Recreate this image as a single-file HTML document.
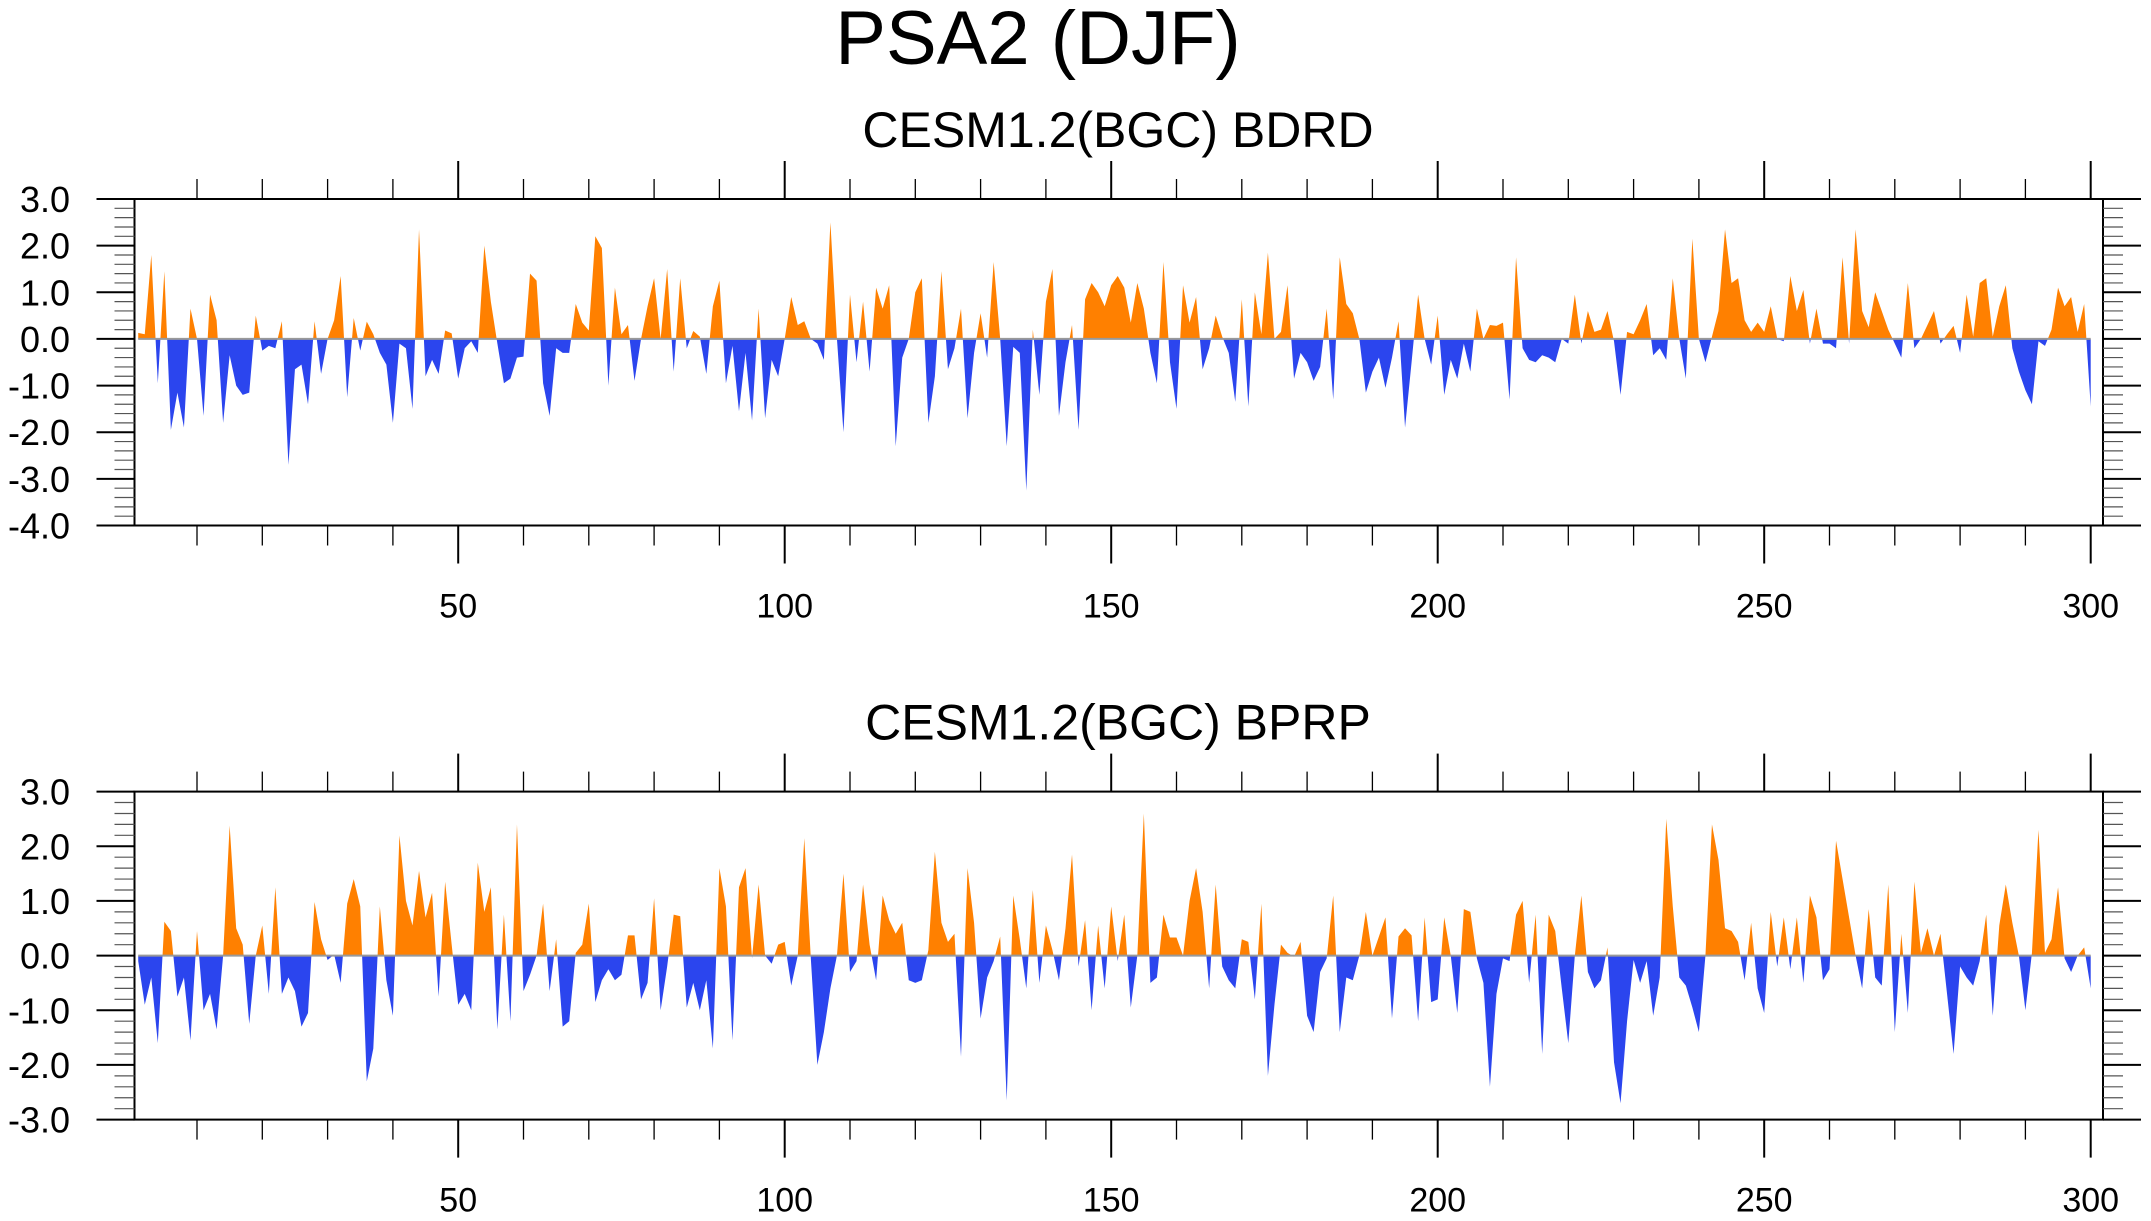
<!DOCTYPE html>
<html><head><meta charset="utf-8">
<style>
html,body{margin:0;padding:0;background:#fff;}
svg{display:block;font-family:"Liberation Sans",Arial,sans-serif;}
</style></head>
<body>
<svg id="chart" width="2151" height="1221" viewBox="0 0 2151 1221" xmlns="http://www.w3.org/2000/svg">
<text x="1038" y="64" font-size="76" text-anchor="middle">PSA2 (DJF)</text>
<g id="p1"></g>
<g id="p2"></g>
</svg>
<script>
const years = Array.from({length:300},(_,k)=>k+1);
const bdrdValues = [0.13,0.1,1.8,-0.95,1.45,-1.95,-1.15,-1.9,0.65,0,-1.65,0.95,0.4,-1.8,-0.35,-1.0,-1.2,-1.15,0.5,-0.25,
-0.15,-0.2,0.38,-2.7,-0.65,-0.55,-1.4,0.38,-0.75,0,0.4,1.35,-1.25,0.45,-0.25,0.37,0.1,-0.3,-0.55,-1.8,
-0.1,-0.2,-1.5,2.35,-0.8,-0.45,-0.75,0.18,0.12,-0.85,-0.2,-0.05,-0.3,2.0,0.8,-0.1,-0.95,-0.85,-0.4,-0.38,
1.4,1.25,-0.95,-1.65,-0.2,-0.3,-0.3,0.75,0.35,0.18,2.2,1.95,-1.0,1.1,0.1,0.3,-0.9,0,0.7,1.3,
0,1.5,-0.7,1.3,-0.2,0.17,0.05,-0.75,0.7,1.25,-0.95,-0.15,-1.55,-0.3,-1.75,0.65,-1.7,-0.45,-0.8,0,
0.9,0.3,0.38,0,-0.1,-0.45,2.5,0,-2.0,0.95,-0.5,0.8,-0.7,1.1,0.65,1.15,-2.3,-0.4,0,1.0,
1.3,-1.8,-0.8,1.45,-0.65,-0.2,0.65,-1.7,-0.3,0.55,-0.4,1.65,0,-2.3,-0.17,-0.3,-3.25,0.2,-1.2,0.8,
1.5,-1.65,-0.5,0.3,-1.95,0.85,1.2,1.0,0.7,1.15,1.35,1.1,0.35,1.2,0.65,-0.3,-0.95,1.65,-0.5,-1.5,
1.15,0.35,0.9,-0.65,-0.2,0.5,0.05,-0.3,-1.35,0.85,-1.45,1.0,0.1,1.85,0,0.15,1.15,-0.85,-0.3,-0.5,
-0.9,-0.6,0.65,-1.3,1.75,0.75,0.55,0,-1.15,-0.7,-0.4,-1.05,-0.4,0.38,-1.9,-0.5,0.95,0,-0.55,0.5,
-1.2,-0.45,-0.85,-0.1,-0.7,0.65,0,0.3,0.28,0.35,-1.3,1.75,-0.2,-0.45,-0.5,-0.35,-0.4,-0.5,0,-0.1,
0.95,-0.1,0.6,0.15,0.2,0.6,-0.05,-1.2,0.15,0.1,0.4,0.75,-0.35,-0.2,-0.45,1.3,0,-0.85,2.15,0,
-0.5,0.05,0.6,2.35,1.2,1.3,0.4,0.15,0.35,0.15,0.7,0,-0.05,1.35,0.6,1.05,-0.1,0.65,-0.1,-0.1,
-0.2,1.75,-0.1,2.35,0.6,0.25,1.0,0.6,0.2,-0.1,-0.4,1.2,-0.2,0,0.3,0.6,-0.1,0.1,0.28,-0.3,
0.95,0.05,1.2,1.3,0.05,0.7,1.15,-0.2,-0.7,-1.1,-1.4,-0.05,-0.15,0.2,1.1,0.7,0.9,0.15,0.75,-1.45];
const bprpValues = [-0.1,-0.9,-0.4,-1.6,0.62,0.45,-0.75,-0.4,-1.55,0.45,-1.0,-0.7,-1.35,0,2.38,0.5,0.2,-1.25,0,0.55,
-0.7,1.25,-0.7,-0.4,-0.65,-1.3,-1.05,0.98,0.3,-0.08,0.02,-0.5,0.95,1.4,0.9,-2.3,-1.7,0.9,-0.45,-1.1,
2.2,1.0,0.55,1.55,0.7,1.15,-0.75,1.35,0.2,-0.9,-0.7,-1.0,1.7,0.8,1.25,-1.35,0.75,-1.2,2.4,-0.65,
-0.35,0,0.95,-0.65,0.3,-1.3,-1.2,0.05,0.2,0.95,-0.85,-0.45,-0.25,-0.45,-0.35,0.37,0.37,-0.8,-0.5,1.05,
-1.0,-0.2,0.75,0.72,-0.95,-0.5,-1.0,-0.45,-1.7,1.6,0.9,-1.55,1.25,1.6,-0.05,1.3,0,-0.15,0.2,0.25,
-0.55,0,2.15,-0.05,-2.0,-1.4,-0.6,0,1.5,-0.3,-0.1,1.3,0.2,-0.45,1.1,0.65,0.4,0.6,-0.45,-0.5,
-0.45,0.1,1.9,0.6,0.25,0.4,-1.85,1.6,0.6,-1.15,-0.4,-0.1,0.35,-2.65,1.1,0.3,-0.6,1.2,-0.5,0.55,
0.1,-0.45,0.5,1.85,-0.2,0.65,-1.0,0.55,-0.6,0.9,-0.1,0.75,-0.95,0,2.6,-0.5,-0.4,0.75,0.33,0.33,
0,1.0,1.6,0.8,-0.6,1.3,-0.2,-0.45,-0.6,0.3,0.25,-0.8,0.95,-2.2,-0.9,0.2,0.05,-0.02,0.25,-1.1,
-1.4,-0.3,-0.05,1.1,-1.4,-0.4,-0.45,0,0.8,0,0.35,0.7,-1.15,0.35,0.5,0.37,-1.2,0.7,-0.85,-0.8,
0.7,0,-1.05,0.85,0.8,-0.05,-0.5,-2.4,-0.7,-0.05,-0.1,0.75,1.0,-0.5,0.75,-1.8,0.75,0.45,-0.6,-1.6,
0,1.1,-0.3,-0.6,-0.45,0.15,-1.95,-2.7,-1.2,-0.08,-0.5,-0.1,-1.1,-0.4,2.5,0.9,-0.4,-0.55,-0.95,-1.4,
0,2.4,1.75,0.5,0.45,0.25,-0.45,0.6,-0.6,-1.05,0.8,-0.2,0.7,-0.25,0.7,-0.5,1.1,0.7,-0.45,-0.25,
2.1,1.4,0.7,0,-0.6,0.85,-0.4,-0.55,1.3,-1.4,0.4,-1.05,1.35,0.05,0.5,0,0.4,-0.7,-1.8,-0.2,
-0.4,-0.55,-0.1,0.75,-1.1,0.55,1.3,0.6,0,-1.0,0.05,2.3,0.05,0.3,1.25,-0.05,-0.3,0,0.15,-0.6];
const xTicks = [50,100,150,200,250,300];
const yTicks1 = [3,2,1,0,-1,-2,-3,-4];
const yTicks2 = [3,2,1,0,-1,-2,-3];

const NS="http://www.w3.org/2000/svg";
function mk(tag,attrs,parent){const e=document.createElementNS(NS,tag);for(const k in attrs)e.setAttribute(k,attrs[k]);parent.appendChild(e);return e;}
const L=134.5,R=2103;
function xs(v){return 131.7+(v)*6.53;}

function drawPanel(g,id,title,vals,yTop,yBot,vmax,vmin,yticks){
  const ys=v=>yTop+(vmax-v)/(vmax-vmin)*(yBot-yTop);
  const t=mk('text',{x:1118,y:yTop-52,'font-size':50,'text-anchor':'middle'},g);
  t.textContent=title;
  
  
  const defs=mk('defs',{},g);
  const cu=mk('clipPath',{id:id+'up'},defs);mk('rect',{x:L,y:yTop,width:R-L,height:ys(0)-yTop},cu);
  const cd=mk('clipPath',{id:id+'dn'},defs);mk('rect',{x:L,y:ys(0),width:R-L,height:yBot-ys(0)},cd);
  let d='M'+xs(years[0])+','+ys(0);
  years.forEach((yr,k)=>{d+=' L'+xs(yr).toFixed(2)+','+ys(vals[k]).toFixed(2);});
  d+=' L'+xs(years[years.length-1])+','+ys(0)+' Z';
  const pu=mk('path',{d:d,fill:'#ff8000','clip-path':'url(#'+id+'up)'},g);
  
  
  const pd=mk('path',{d:d,fill:'#2b45ee','clip-path':'url(#'+id+'dn)'},g);
  
  
  const zl=mk('line',{x1:xs(1),x2:xs(300),y1:ys(0),y2:ys(0),stroke:'#999','stroke-width':2},g);
  
  
  const box=mk('rect',{x:L,y:yTop,width:R-L,height:yBot-yTop,fill:'none',stroke:'#000','stroke-width':2},g);
  
  
  for(let v=10;v<=300;v+=10){
    const maj=v%50===0, len=maj?38:20, x=xs(v);
    mk('line',{x1:x,x2:x,y1:yTop,y2:yTop-len,stroke:'#000','stroke-width':maj?2:1.3},g);
    mk('line',{x1:x,x2:x,y1:yBot,y2:yBot+len,stroke:'#000','stroke-width':maj?2:1.3},g);
  }
  xTicks.forEach(v=>{
    const tl=mk('text',{x:xs(v),y:yBot+92,'font-size':34,'text-anchor':'middle'},g);
    tl.textContent=v;
    
    
  });
  for(let v=vmin;v<=vmax+1e-6;v+=0.2){
    const r=Math.round(v*5)/5, maj=Math.abs(r-Math.round(r))<1e-6, len=maj?38:20, y=ys(r);
    mk('line',{x1:L,x2:L-len,y1:y,y2:y,stroke:maj?'#000':'#555','stroke-width':maj?2:1.2},g);
    mk('line',{x1:R,x2:R+len,y1:y,y2:y,stroke:maj?'#000':'#555','stroke-width':maj?2:1.2},g);
  }
  yticks.forEach(v=>{
    const tl=mk('text',{x:70,y:ys(v)+13,'font-size':36,'text-anchor':'end'},g);
    tl.textContent=v.toFixed(1);
    
    
  });
}
drawPanel(document.getElementById('p1'),'bdrd','CESM1.2(BGC) BDRD',bdrdValues,199,525.5,3,-4,yTicks1);
drawPanel(document.getElementById('p2'),'bprp','CESM1.2(BGC) BPRP',bprpValues,791.6,1119.6,3,-3,yTicks2);
</script>
</body></html>
